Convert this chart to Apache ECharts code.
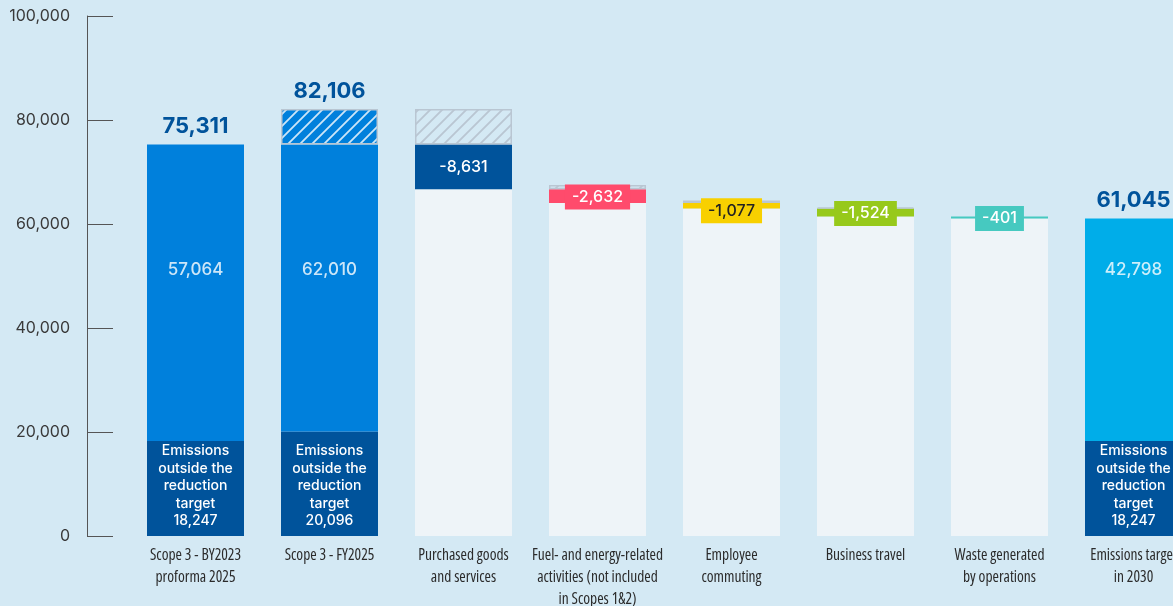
<!DOCTYPE html>
<html>
<head>
<meta charset="utf-8">
<script src="https://cdn.jsdelivr.net/npm/echarts@6/dist/echarts.min.js"></script>
<style>
html,body{margin:0;padding:0;background:#d4e9f4;}
#chart{width:1173px;height:606px;}
</style>
</head>
<body>
<div id="chart"></div>
<script>
// ---- data ----
const categories = [
  'Scope 3 - BY2023\nproforma 2025',
  'Scope 3 - FY2025',
  'Purchased goods\nand services',
  'Fuel- and energy-related\nactivities (not included\nin Scopes 1&2)',
  'Employee\ncommuting',
  'Business travel',
  'Waste generated\nby operations',
  'Emissions target\nin 2030'
];
const totals = [75311, 82106, null, null, null, null, null, 61045];
const outsideTarget = [18247, 20096, null, null, null, null, null, 18247];
const inTarget = [57064, 62010, null, null, null, null, null, 42798];
const reductions = [null, null, -8631, -2632, -1077, -1524, -401, null];
const hatchStrips = [null, 6795, 6795, 830, 450, 200, null, null];
const yTicks = [0, 20000, 40000, 60000, 80000, 100000];

// ---- colours ----
const C = {
  bg: '#d4e9f4', dark: '#00539b', blue: '#0080dc', light: '#eef4f8',
  red: '#ff4b6c', yellow: '#f8d000', green: '#97c91b', teal: '#46c9c0', cyan: '#00ade9',
  grey: '#b9c6d2'
};
const stepColors = [C.blue, C.blue, C.dark, C.red, C.yellow, C.green, C.teal, C.cyan];

function makePattern(bg, stroke) {
  const s = 12, c = document.createElement('canvas');
  c.width = s; c.height = s;
  const g = c.getContext('2d');
  if (bg) { g.fillStyle = bg; g.fillRect(0, 0, s, s); }
  g.strokeStyle = stroke; g.lineWidth = 1.8;
  g.beginPath();
  g.moveTo(-2, s + 2); g.lineTo(s + 2, -2);
  g.moveTo(-2, 2); g.lineTo(2, -2);
  g.moveTo(s - 2, s + 2); g.lineTo(s + 2, s - 2);
  g.stroke();
  return c;
}
const blueHatch = makePattern(C.blue, 'rgba(255,255,255,0.8)');
const greyHatch = makePattern(null, C.grey);

// ---- build stacks ----
const fmt = v => Math.abs(v).toLocaleString('en-US');
const totalLabel = txt => ({ show: true, position: 'top', distance: 7, formatter: txt,
  color: C.dark, fontSize: 22, fontWeight: 'bold', fontFamily: 'Inter, sans-serif' });
const base = [], pale = [], main = [], hatch = [];
let level = totals[0];
categories.forEach((c, i) => {
  if (outsideTarget[i] != null) {
    base.push({
      value: outsideTarget[i],
      label: { show: true, position: 'insideBottom', distance: 6,
        formatter: 'Emissions\noutside the\nreduction\ntarget\n' + fmt(outsideTarget[i]) }
    });
    pale.push('-');
    const solid = (i === 1 ? totals[0] : totals[i]) - outsideTarget[i];
    const m = { value: solid, itemStyle: { color: stepColors[i] } };
    if (i !== 1) m.label = totalLabel(fmt(totals[i]));
    main.push(m);
  } else {
    base.push('-');
    level += reductions[i];
    pale.push(level);
    const lbl = i === 2
      ? { show: true, position: 'inside', color: '#fff', fontSize: 16, fontWeight: 500,
          formatter: reductions[i].toLocaleString('en-US') }
      : { show: true, position: 'inside', color: i === 4 ? '#222' : '#fff', fontSize: 16,
          fontWeight: 500, backgroundColor: stepColors[i], padding: [5, 7, 4, 7],
          offset: [0, i === 4 ? 5 : 1],
          formatter: reductions[i].toLocaleString('en-US') };
    main.push({ value: -reductions[i], itemStyle: { color: stepColors[i] }, label: lbl });
  }
  if (hatchStrips[i] != null) {
    const h = { value: hatchStrips[i],
      itemStyle: { color: { image: i === 1 ? blueHatch : greyHatch, repeat: 'repeat' },
        borderColor: C.grey, borderWidth: 1.5 } };
    if (i === 1) h.label = totalLabel(fmt(totals[i]));
    hatch.push(h);
  } else hatch.push('-');
});
const midLabels = categories.map((c, i) => inTarget[i] != null
  ? { value: [i, 51200], label: { formatter: fmt(inTarget[i]) } } : null).filter(Boolean);

const chart = echarts.init(document.getElementById('chart'));
chart.setOption({
  backgroundColor: C.bg,
  animation: false,
  textStyle: { fontFamily: 'Inter, "Noto Sans", sans-serif' },
  grid: { left: 128.5, top: 16, width: 1072, bottom: 70, outerBoundsMode: 'none', containLabel: false },
  xAxis: {
    type: 'category', data: categories,
    axisLine: { show: false }, axisTick: { show: false },
    axisLabel: { interval: 0, margin: 9, color: '#2b2b2b', fontSize: 15.5, lineHeight: 22,
      fontStyle: 'condensed', fontFamily: '"Open Sans", sans-serif' }
  },
  yAxis: {
    type: 'value', min: 0, max: 100000, interval: 20000, offset: 41.5,
    axisLine: { show: true, lineStyle: { color: '#555', width: 1 } },
    axisTick: { show: true, inside: true, length: 26, lineStyle: { color: '#555' } },
    splitLine: { show: false },
    axisLabel: { margin: 17, color: '#3a3a3a', fontSize: 16,
      formatter: v => v.toLocaleString('en-US') }
  },
  series: [
    { name: 'outside', type: 'bar', stack: 'a', barWidth: 97, data: base,
      itemStyle: { color: C.dark },
      label: { color: '#fff', fontSize: 14, fontWeight: 500, lineHeight: 17.5, align: 'center' } },
    { name: 'pale', type: 'bar', stack: 'a', barWidth: 97, data: pale,
      itemStyle: { color: C.light } },
    { name: 'main', type: 'bar', stack: 'a', barWidth: 97, data: main },
    { name: 'hatch', type: 'bar', stack: 'a', barWidth: 97, data: hatch },
    { name: 'mid', type: 'scatter', symbolSize: 0, data: midLabels, silent: true,
      label: { show: true, position: 'inside', color: '#fff', fontSize: 17, fontWeight: 500 } }
  ]
});
</script>
</body>
</html>
